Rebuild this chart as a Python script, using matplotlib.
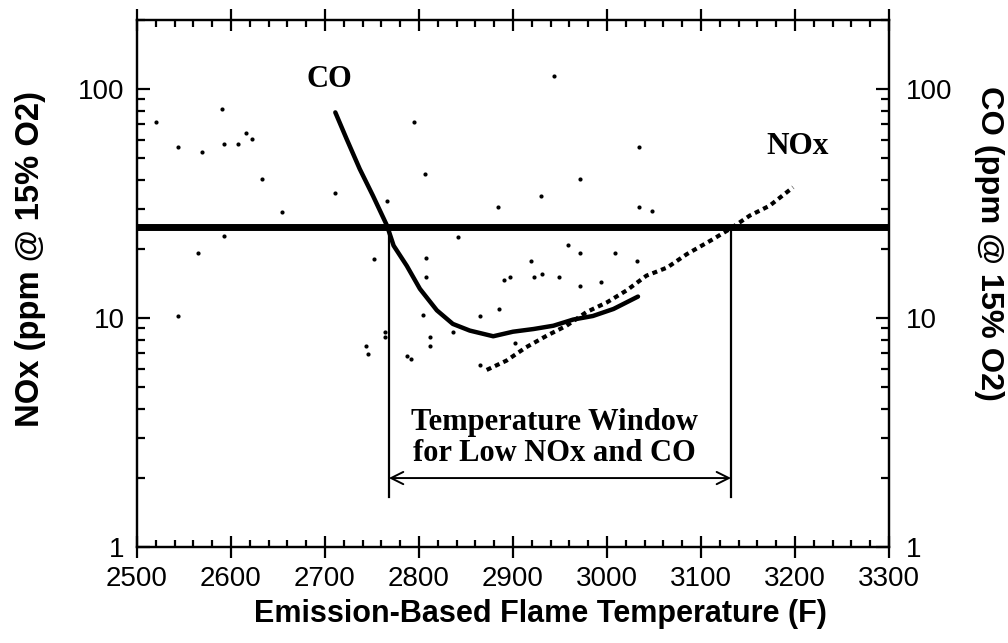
import matplotlib
matplotlib.use("Agg")
import matplotlib.pyplot as plt
from matplotlib.ticker import MultipleLocator, LogLocator, NullFormatter, FixedLocator

# scattered measurements
scatter_x = [2520, 2590, 2544, 2569, 2593, 2607, 2616, 2622, 2633, 2654,
             2711, 2766, 2593, 2565, 2752, 2544, 2764, 2764, 2744, 2746,
             2795, 2806, 2884, 2930, 2971, 3034, 3034, 2841, 2959, 2971,
             3009, 3032, 2807, 2919, 2944, 3048, 2807, 2890, 2897, 2922,
             2931, 2949, 2971, 2994, 2804, 2865, 2885, 2836, 2812, 2812,
             2902, 2787, 2792, 2865]
scatter_y = [71.5, 81.8, 55.6, 52.9, 57.5, 57.5, 64.3, 60.7, 40.5, 29.1,
             35.0, 32.5, 22.7, 19.2, 18.1, 10.2, 8.71, 8.24, 7.57, 6.97,
             71.5, 42.5, 30.5, 34.1, 40.5, 55.8, 30.6, 22.6, 20.9, 19.3,
             19.3, 17.7, 18.2, 17.7, 113.6, 29.2, 15.1, 14.6, 15.1, 15.1,
             15.5, 15.1, 13.8, 14.4, 10.3, 10.2, 10.9, 8.71, 8.24, 7.57,
             7.8, 6.85, 6.62, 6.25]

# CO trend
co_x = [2711, 2723, 2737, 2751, 2766, 2773, 2787, 2801, 2819, 2836,
        2854, 2879, 2900, 2922, 2943, 2964, 2985, 3007, 3033]
co_y = [79, 60.5, 44.7, 34.2, 25.3, 20.7, 16.9, 13.4, 10.8, 9.42,
        8.81, 8.32, 8.71, 8.95, 9.25, 9.84, 10.2, 10.95, 12.4]

# NOx trend
nox_x = [2872, 2893, 2914, 2936, 2957, 2978, 3000, 3021, 3042, 3064,
         3085, 3113, 3131, 3152, 3173, 3198]
nox_y = [5.93, 6.51, 7.45, 8.37, 9.25, 10.6, 11.7, 13.2, 15.3, 16.6,
         19.0, 22.1, 24.5, 28.0, 30.9, 37.2]

limit = 25          # ppm limit line
window = (2768, 3132)

sans = "Liberation Sans"
serif = "Liberation Serif"

fig = plt.figure(figsize=(10.08, 6.43), dpi=100)
ax = fig.add_axes([0.1359, 0.1493, 0.746, 0.8196])

ax.plot(scatter_x, scatter_y, "o", color="black", ms=3, mew=0)
ax.plot(co_x, co_y, color="black", lw=3.2, solid_capstyle="round")
ax.plot(nox_x, nox_y, color="black", lw=3, linestyle=(0, (1.2, 1.0)))

ax.axhline(limit, color="black", lw=5)
for wx in window:
    ax.plot([wx, wx], [1.66, limit], color="black", lw=1.6)
ax.annotate("", xy=(window[0], 2.0), xytext=(window[1], 2.0),
            arrowprops=dict(arrowstyle="<->", lw=1.4, color="black",
                            mutation_scale=22, shrinkA=0, shrinkB=0))

ax.text(2705, 110, "CO", family=serif, weight="bold", fontsize=22,
        ha="center", va="center")
ax.text(3203, 55.8, "NOx", family=serif, weight="bold", fontsize=22.5,
        ha="center", va="center")
ax.text(2944, 3.0, "Temperature Window\nfor Low NOx and CO", family=serif,
        weight="bold", fontsize=22, ha="center", va="center", linespacing=1.1)

ax.set_xlim(2500, 3300)
ax.set_yscale("log")
ax.set_ylim(1, 200)

ax.xaxis.set_major_locator(MultipleLocator(100))
ax.xaxis.set_minor_locator(MultipleLocator(20))
ax.yaxis.set_major_locator(FixedLocator([1, 10, 100]))
ax.yaxis.set_minor_locator(LogLocator(base=10, subs=range(2, 10)))
ax.yaxis.set_minor_formatter(NullFormatter())
ax.set_yticklabels(["1", "10", "100"])

ax.tick_params(axis="x", which="major", direction="inout", length=16,
               width=1.6, top=True, pad=6, labelsize=20)
ax.tick_params(axis="x", which="minor", direction="in", length=5,
               width=1.6, top=True)
ax.tick_params(axis="y", which="major", direction="in", length=9.5,
               width=1.6, pad=9, labelsize=20)
ax.tick_params(axis="y", which="minor", direction="in", length=5.5,
               width=1.6)
for lab in ax.get_xticklabels() + ax.get_yticklabels():
    lab.set_family(sans)

for sp in ax.spines.values():
    sp.set_linewidth(1.6)

ax2 = ax.twinx()
ax2.set_yscale("log")
ax2.set_ylim(1, 200)
ax2.yaxis.set_major_locator(FixedLocator([1, 10, 100]))
ax2.yaxis.set_minor_locator(LogLocator(base=10, subs=range(2, 10)))
ax2.yaxis.set_minor_formatter(NullFormatter())
ax2.set_yticklabels(["1", "10", "100"])
ax2.tick_params(axis="y", which="major", direction="in", length=9.5,
                width=1.6, pad=12, labelsize=20)
ax2.tick_params(axis="y", which="minor", direction="in", length=5.5,
                width=1.6)
for lab in ax2.get_yticklabels():
    lab.set_family(sans)
for sp in ax2.spines.values():
    sp.set_linewidth(1.6)

# axis titles placed where they sit in the original figure
fig.text(540 / 1008, 1 - 614 / 643, "Emission-Based Flame Temperature (F)",
         family=sans, weight="bold", fontsize=22, ha="center", va="center")
fig.text(31 / 1008, 1 - 259 / 643, "NOx (ppm @ 15% O2)", family=sans,
         weight="bold", fontsize=23.6, rotation=90, ha="center", va="center")
fig.text(989 / 1008, 1 - 243 / 643, "CO (ppm @ 15% O2)", family=sans,
         weight="bold", fontsize=23.4, rotation=270, ha="center", va="center")

fig.savefig("out.png", dpi=100)
